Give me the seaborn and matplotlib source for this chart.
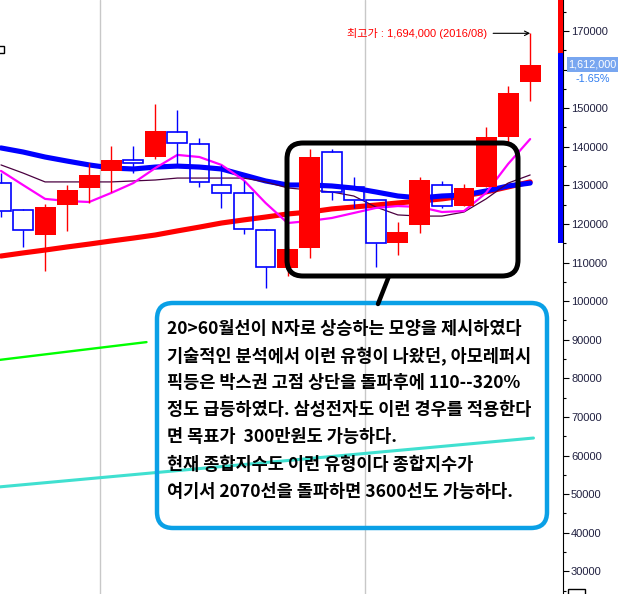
import matplotlib
matplotlib.use('Agg')
import matplotlib.pyplot as plt
from matplotlib.patches import FancyBboxPatch, Rectangle
from matplotlib.ticker import MultipleLocator, FuncFormatter
import numpy as np
import seaborn as sns

# monthly candles, oldest first (chart price units)
open_ = [130600, 123600, 117150, 124900, 129300, 133750, 136600, 137350, 143850, 140750,
         130100, 128000, 118450, 108600, 113800, 138650, 129600, 126200, 115100, 119750,
         130100, 124650, 129600, 142550, 156800]
close = [123350, 118450, 124400, 128800, 132700, 136600, 135800, 144100, 141000, 130900,
         128000, 118700, 108850, 113500, 137350, 128300, 126200, 115100, 117900, 131400,
         124650, 129300, 142550, 153950, 161200]
high = [133200, 123900, 125200, 130100, 135800, 140200, 140200, 151100, 149550, 142300,
        135300, 131150, 118700, 114000, 139450, 139450, 132200, 126200, 120500, 132200,
        131150, 130350, 145150, 155750, 169400]
low = [121800, 114050, 107800, 118200, 125450, 128300, 133200, 136850, 135550, 129600,
       124150, 117400, 103400, 106550, 111200, 126200, 124150, 108850, 111950, 117650,
       124150, 124650, 129600, 141250, 151850]

# moving averages
ma_blue = [139700, 138650, 137350, 136300, 135300, 134500, 134250, 134750, 135000, 134750,
           134250, 132700, 131150, 130100, 130100, 129850, 129300, 128300, 127250, 126750,
           127250, 127500, 128550, 129850, 130600]
ma_red = [111700, 112500, 113250, 114050, 114800, 115600, 116350, 117150, 118200, 119200,
          120250, 121050, 121800, 122600, 123100, 123900, 124400, 124900, 125450, 125950,
          126500, 127250, 128300, 129600, 130900]
ma_magenta = [133750, 130100, 126500, 125950, 125700, 128050, 130600, 134500, 137900, 137350,
              135300, 131400, 125450, 120250, 120800, 121550, 122850, 124150, 124650, 124400,
              123100, 123350, 128050, 135550, 142000]
ma_purple = [135300, 133200, 130900, 130900, 130900, 130900, 131150, 131400, 131900, 131900,
             131900, 131900, 130900, 129350, 128800, 128300, 127250, 124400, 122350, 122050,
             122050, 123100, 126500, 130600, 132700]

# trend lines (x in candle index)
green_x = [-0.05, 6.6]
green_y = [84800, 89400]
cyan_x = [-0.05, 24.15]
cyan_y = [51900, 64550]

separators = [4.5, 16.5]
peak_label = '최고가 : 1,694,000 (2016/08)'
last_price = '1,612,000'
change_pct = '-1.65%'
band_top = 164300
band_split = 115100

note_lines = [
    '20>60월선이 N자로 상승하는 모양을 제시하였다',
    '기술적인 분석에서 이런 유형이 나왔던, 아모레퍼시',
    '픽등은 박스권 고점 상단을 돌파후에 110--320%',
    '정도 급등하였다. 삼성전자도 이런 경우를 적용한다',
    '면 목표가  300만원도 가능하다.',
    '현재 종합지수도 이런 유형이다 종합지수가',
    '여기서 2070선을 돌파하면 3600선도 가능하다.',
]

sns.set_style('white')
plt.rcParams['font.family'] = ['Liberation Sans', 'Noto Sans CJK KR', 'DejaVu Sans']

fig = plt.figure(figsize=(6.18, 5.94), dpi=100)
ax = fig.add_axes([0, 0, 563 / 618, 1])
ax.set_facecolor('white')

x = np.arange(len(open_))
o, c, h, l = map(np.array, (open_, close, high, low))
up = c >= o
lo = np.minimum(o, c)
hi = np.maximum(o, c)

for s in separators:
    ax.axvline(s, color='#c8c8c8', lw=1, zorder=0)

sns.lineplot(x=green_x, y=green_y, ax=ax, color='#00ff00', lw=1.7, zorder=2)
sns.lineplot(x=x, y=ma_red, ax=ax, color='#ff0000', lw=3.7, zorder=2)
sns.lineplot(x=x, y=ma_blue, ax=ax, color='#0000ff', lw=3.7, zorder=2)
sns.lineplot(x=x, y=ma_purple, ax=ax, color='#4a0040', lw=0.9, zorder=2)
sns.lineplot(x=x, y=ma_magenta, ax=ax, color='#ff00ff', lw=1.6, zorder=2)

# candles: red filled = up, blue hollow = down
ax.vlines(x[up], l[up], h[up], color='red', lw=1, zorder=3)
ax.vlines(x[~up], hi[~up], h[~up], color='blue', lw=1, zorder=3)
ax.vlines(x[~up], l[~up], lo[~up], color='blue', lw=1, zorder=3)
ax.bar(x[~up], (hi - lo)[~up], bottom=lo[~up], width=0.9, fill=False,
       edgecolor='blue', lw=1.2, zorder=3)
ax.bar(x[up], (hi - lo)[up], bottom=lo[up], width=0.95, color='red', lw=0, zorder=4)

sns.lineplot(x=cyan_x, y=cyan_y, ax=ax, color='#40e0d0', lw=2.2, zorder=6)

ax.set_xlim(-0.045, 25.49)
ax.set_ylim(24140, 178030)
ax.set_xticks([])
ax.yaxis.tick_right()
ax.yaxis.set_major_locator(MultipleLocator(10000))
ax.yaxis.set_minor_locator(MultipleLocator(5000))
# the label under the last-price tag is hidden by the tag
ax.yaxis.set_major_formatter(FuncFormatter(
    lambda v, pos: '' if abs(v - c[-1]) < 6000 else f'{v:.0f}'))
ax.tick_params(axis='y', which='major', length=4.3, width=0.8, color='black',
               labelsize=8, labelcolor='#202040', pad=1.5)
ax.tick_params(axis='y', which='minor', length=2.2, width=0.8, color='black')
for side in ['top', 'left', 'bottom']:
    ax.spines[side].set_visible(False)
ax.spines['right'].set_color('black')
ax.spines['right'].set_linewidth(0.8)

# colour band beside the axis
yt = ax.get_yaxis_transform()
ax.add_patch(Rectangle((558 / 563, band_top), 5 / 563, 178030 - band_top,
                       transform=yt, color='red', lw=0, clip_on=False, zorder=5))
ax.add_patch(Rectangle((558 / 563, band_split), 5 / 563, band_top - band_split,
                       transform=yt, color='blue', lw=0, clip_on=False, zorder=5))

# callouts drawn in pixel space
ov = fig.add_axes([0, 0, 1, 1])
ov.set_xlim(0, 618)
ov.set_ylim(594, 0)
ov.axis('off')
ov.patch.set_alpha(0)

# last price tag
ov_from_data = ax.transData + ov.transData.inverted()
tag_y = ov_from_data.transform((0, c[-1]))[1]
ov.add_patch(Rectangle((567, tag_y - 7.5), 51, 15, color='#78a6f0', lw=0, zorder=5))
ov.text(592.5, tag_y, last_price, ha='center', va='center', color='white',
        fontsize=7.8, zorder=6)
ov.text(593, tag_y + 14, change_pct, ha='center', va='center', color='#2e7cf0',
        fontsize=7.8, zorder=6)

# peak annotation
ax.annotate(peak_label, xy=(x[-1], h[-1]), xytext=(-31, 0), textcoords='offset points',
            ha='right', va='center', color='red', fontsize=8,
            arrowprops=dict(arrowstyle='->', color='black', lw=0.8, shrinkA=2, shrinkB=0))

ov.add_patch(FancyBboxPatch((287, 143), 231, 133, boxstyle='round,pad=0,rounding_size=16',
                            fill=False, ec='black', lw=3.6))
ov.plot([389, 378], [276, 304], color='black', lw=3.2, solid_capstyle='round')
ov.add_patch(FancyBboxPatch((157, 303), 390, 225, boxstyle='round,pad=0,rounding_size=16',
                            fill=False, ec='#0aa0e6', lw=3.2))
for i, line in enumerate(note_lines):
    ov.text(167, 329 + 27.1 * i, line, fontsize=12.6, fontweight='bold', va='center',
            ha='left', color='black', family=['Noto Sans CJK KR', 'DejaVu Sans'])

ov.add_patch(Rectangle((-4, 46), 8, 7, fill=False, ec='black', lw=1))
ov.add_patch(Rectangle((568, 589), 17, 10, fill=False, ec='black', lw=1))

fig.savefig('out.png', dpi=100)
